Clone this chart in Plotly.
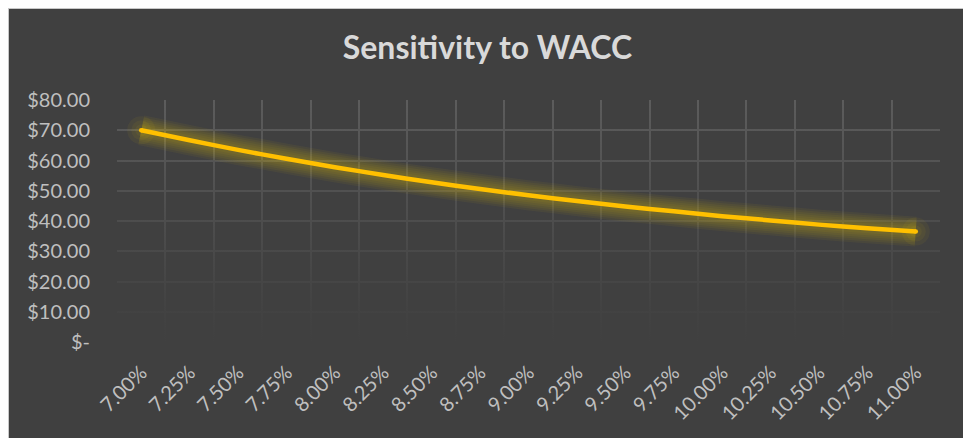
import plotly.graph_objects as go

# ---- data ----
wacc_labels = ["7.00%", "7.25%", "7.50%", "7.75%", "8.00%", "8.25%", "8.50%", "8.75%",
               "9.00%", "9.25%", "9.50%", "9.75%", "10.00%", "10.25%", "10.50%", "10.75%", "11.00%"]
share_value = [70.0, 66.7, 63.5, 60.6, 57.8, 55.2, 52.8, 50.6,
               48.5, 46.6, 44.8, 43.2, 41.6, 40.2, 38.8, 37.6, 36.5]
y_tick_vals = [0, 10, 20, 30, 40, 50, 60, 70, 80]
y_tick_text = ["$-", "$10.00", "$20.00", "$30.00", "$40.00", "$50.00", "$60.00", "$70.00", "$80.00"]

# figure sits inside the page's 8px body margin
W, H = 959, 430
ML, MR, MT, MB = 109, 27, 92, 96
PW, PH = W - ML - MR, H - MT - MB

n = len(wacc_labels)
xs = list(range(n))
x_lo, x_hi = -0.5, n - 0.5
y_lo, y_hi = y_tick_vals[0], y_tick_vals[-1]

BG = "#404040"
FONT = "Lato"

fig = go.Figure()

# fade overlay so gridlines fade toward the bottom (Excel gradient gridlines)
fig.add_trace(go.Scatter(
    x=[x_lo, x_hi, x_hi, x_lo, x_lo], y=[y_lo, y_lo, y_hi, y_hi, y_lo],
    mode="lines", line=dict(width=0), fill="toself",
    fillgradient=dict(type="vertical",
                      colorscale=[[0, "rgba(64,64,64,1)"], [0.15, "rgba(64,64,64,0.9)"],
                                  [1, "rgba(64,64,64,0)"]],
                      start=y_lo, stop=y_hi),
    hoverinfo="skip", showlegend=False))

# soft glow layers
for w in [30, 26, 22, 18, 14, 10]:
    fig.add_trace(go.Scatter(
        x=xs, y=share_value, mode="lines",
        line=dict(color="rgba(255,220,0,0.05)", width=w, shape="spline", smoothing=0.8),
        hoverinfo="skip", showlegend=False))
# glow around the end points
for s in [28, 20, 12]:
    fig.add_trace(go.Scatter(
        x=[xs[0], xs[-1]], y=[share_value[0], share_value[-1]], mode="markers",
        marker=dict(color="rgba(255,220,0,0.05)", size=s, line=dict(width=0)),
        hoverinfo="skip", showlegend=False))

fig.add_trace(go.Scatter(
    x=xs, y=share_value, mode="lines",
    line=dict(color="#FFC000", width=4.5, shape="spline", smoothing=0.8),
    showlegend=False))
fig.add_trace(go.Scatter(
    x=[xs[0], xs[-1]], y=[share_value[0], share_value[-1]], mode="markers",
    marker=dict(color="#FFC000", size=4.5, line=dict(width=0)),
    hoverinfo="skip", showlegend=False))


def px_x(p):
    return (p - ML) / PW


def px_y(p):
    return (H - MB - p) / PH


fig.add_shape(type="rect", xref="paper", yref="paper",
              x0=px_x(0), x1=px_x(W), y0=px_y(H + 5), y1=px_y(0),
              fillcolor=BG, line=dict(color="#c8c8c8", width=2), layer="below")

fig.update_layout(
    width=W, height=H,
    margin=dict(l=ML, r=MR, t=MT, b=MB),
    paper_bgcolor=BG, plot_bgcolor="rgba(0,0,0,0)",
    title=dict(text="<b>Sensitivity to WACC</b>", x=0.5, xanchor="center",
               y=1 - 40 / H, yanchor="middle", yref="container",
               font=dict(family=FONT, size=32, color="#d9d9d9")),
    xaxis=dict(range=[x_lo, x_hi], tickmode="array", tickvals=xs, ticktext=wacc_labels,
               tickangle=-45, showgrid=False, zeroline=False, showline=False,
               ticks="", ticklabelstandoff=14,
               tickfont=dict(family=FONT, size=20, color="#bfbfbf"),
               minor=dict(tickmode="array", tickvals=[i - 0.5 for i in range(n + 1)],
                          showgrid=True, gridcolor="#5c5c5c", gridwidth=1.5, ticks="")),
    yaxis=dict(range=[y_lo, y_hi], tickmode="array", tickvals=y_tick_vals, ticktext=y_tick_text,
               showgrid=True, gridcolor="#5c5c5c", gridwidth=1.5, zeroline=False,
               showline=False, ticks="", ticklabelstandoff=26,
               tickfont=dict(family=FONT, size=20, color="#bfbfbf")),
    hovermode=False,
)

fig.write_html("out.html")
